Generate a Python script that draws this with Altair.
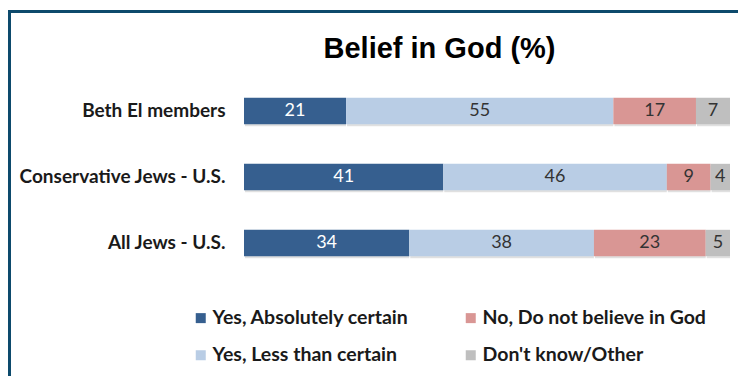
import altair as alt
import pandas as pd

groups = ["Beth El members", "Conservative Jews - U.S.", "All Jews - U.S."]
answers = ["Yes, Absolutely certain", "Yes, Less than certain", "No, Do not believe in God", "Don't know/Other"]
colors = {"Yes, Absolutely certain": "#365f8f", "Yes, Less than certain": "#b9cde5",
          "No, Do not believe in God": "#d99694", "Don't know/Other": "#bfbfbf"}
values = {
    "Beth El members": [21, 55, 17, 7],
    "Conservative Jews - U.S.": [41, 46, 9, 4],
    "All Jews - U.S.": [34, 38, 23, 5],
}
title_text = "Belief in God (%)"

rows = []
for g in groups:
    for i, a in enumerate(answers):
        rows.append({"group": g, "answer": a, "value": values[g][i], "order": i})
df = pd.DataFrame(rows)

FONT = "Lato"

base = alt.Chart(df).transform_stack(
    stack="value", groupby=["group"], as_=["x0", "x1"], sort=[alt.SortField("order")]
).transform_calculate(mid="(datum.x0 + datum.x1) / 2")

yenc = alt.Y("group:N", sort=groups, title=None,
             scale=alt.Scale(paddingInner=0.6, paddingOuter=0.3),
             axis=alt.Axis(ticks=False, domain=False, labelPadding=19, labelFont=FONT,
                           labelFontSize=19, labelFontWeight="bold", labelColor="#1a1a1a",
                           labelLimit=300))
xscale = alt.Scale(domain=[0, 100], nice=False, zero=True)

shadow = base.mark_bar(color="#000000", opacity=0.12, yOffset=2, xOffset=1).encode(
    x=alt.X("x0:Q", scale=xscale, axis=None), x2="x1:Q", y=yenc
)

bars = base.mark_bar().encode(
    x=alt.X("x0:Q", scale=xscale, axis=None),
    x2="x1:Q",
    y=yenc,
    color=alt.Color("answer:N",
                    scale=alt.Scale(domain=answers, range=[colors[a] for a in answers]),
                    legend=alt.Legend(title=None, orient="none", legendX=-53, legendY=230,
                                      columns=2, columnPadding=52, rowPadding=16.5,
                                      symbolType="square", symbolSize=100, symbolStrokeWidth=0,
                                      labelFont=FONT, labelFontSize=19.5, labelFontWeight="bold",
                                      labelColor="#1a1a1a", labelOffset=2, padding=0,
                                      labelLimit=300)),
)

text = base.mark_text(font=FONT, fontSize=18, baseline="middle", align="center").encode(
    x=alt.X("mid:Q", scale=xscale, axis=None),
    y=yenc,
    text="value:Q",
    color=alt.condition(alt.datum.answer == "Yes, Absolutely certain",
                        alt.value("#ffffff"), alt.value("#333333")),
)

frame_data = alt.Data(values=[{"k": 1}])
title = alt.Chart(frame_data).mark_text(
    font="Liberation Sans", fontSize=29, fontWeight="bold", color="#000000",
    align="center", baseline="alphabetic").encode(
    x=alt.value(195.5), y=alt.value(-20), text=alt.value(title_text))
left_line = alt.Chart(frame_data).mark_rule(color="#0d4a6c", strokeWidth=3).encode(
    x=alt.value(-234.5), y=alt.value(-68), y2=alt.value(340))
top_line = alt.Chart(frame_data).mark_rule(color="#0d4a6c", strokeWidth=3).encode(
    x=alt.value(-236), x2=alt.value(510), y=alt.value(-66.5))

chart = alt.layer(shadow, bars, text, title, left_line, top_line).properties(
    width=486, height=198,
    autosize=alt.AutoSizeParams(type="none"),
    padding={"left": 236, "top": 70, "right": 8, "bottom": 100},
).configure_view(stroke=None)

chart.save("out.html", embed_options={"renderer": "svg", "actions": False})
